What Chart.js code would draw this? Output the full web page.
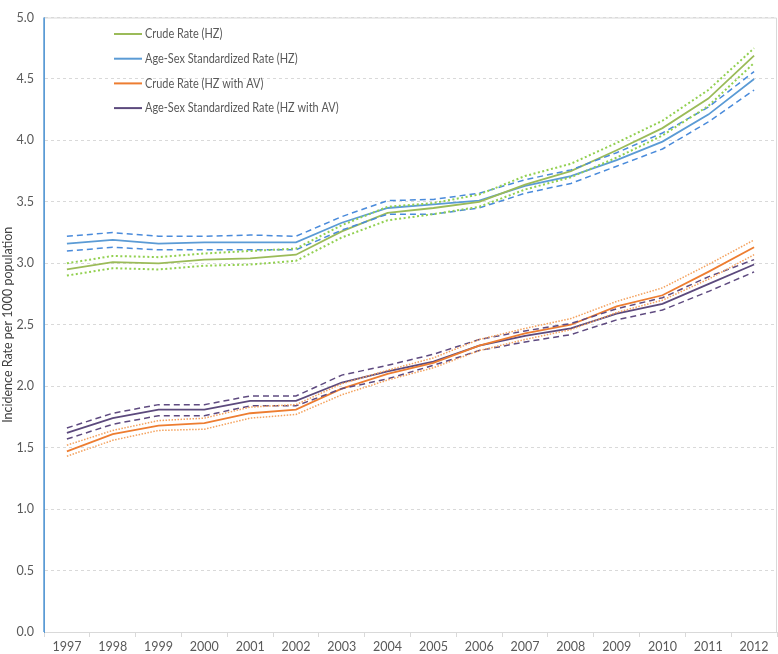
<!DOCTYPE html>
<html>
<head>
<meta charset="utf-8">
<script src="https://cdn.jsdelivr.net/npm/chart.js@4"></script>
<style>
  body { margin: 0; background: #fff; }
  #wrap { width: 778px; height: 654px; }
</style>
</head>
<body>
<div id="wrap"><canvas id="rateChart" width="778" height="654"></canvas></div>
<script>
const years = ["1997", "1998", "1999", "2000", "2001", "2002", "2003", "2004",
  "2005", "2006", "2007", "2008", "2009", "2010", "2011", "2012"];

// HZ
const crudeHz = [2.95, 3.01, 3.00, 3.03, 3.04, 3.07, 3.26, 3.41, 3.45, 3.50, 3.64, 3.75, 3.92, 4.10, 4.34, 4.69];
const crudeHzLow = [2.90, 2.96, 2.95, 2.98, 2.99, 3.02, 3.21, 3.35, 3.40, 3.46, 3.60, 3.70, 3.86, 4.04, 4.28, 4.63];
const crudeHzHigh = [3.00, 3.06, 3.05, 3.08, 3.10, 3.12, 3.31, 3.46, 3.49, 3.56, 3.71, 3.81, 3.98, 4.16, 4.41, 4.75];
const stdHz = [3.16, 3.19, 3.16, 3.17, 3.17, 3.17, 3.33, 3.45, 3.48, 3.51, 3.63, 3.71, 3.84, 3.99, 4.21, 4.50];
const stdHzLow = [3.10, 3.13, 3.11, 3.11, 3.11, 3.11, 3.27, 3.40, 3.40, 3.45, 3.57, 3.65, 3.79, 3.93, 4.15, 4.41];
const stdHzHigh = [3.22, 3.25, 3.22, 3.22, 3.23, 3.22, 3.38, 3.51, 3.52, 3.57, 3.68, 3.76, 3.90, 4.06, 4.27, 4.56];

// HZ with AV
const crudeAv = [1.47, 1.61, 1.68, 1.70, 1.78, 1.81, 1.98, 2.10, 2.19, 2.33, 2.43, 2.50, 2.65, 2.74, 2.93, 3.13];
const crudeAvLow = [1.43, 1.56, 1.64, 1.65, 1.74, 1.77, 1.93, 2.05, 2.15, 2.29, 2.38, 2.46, 2.60, 2.70, 2.87, 3.07];
const crudeAvHigh = [1.52, 1.64, 1.72, 1.74, 1.83, 1.85, 2.02, 2.13, 2.23, 2.38, 2.47, 2.55, 2.69, 2.80, 2.99, 3.19];
const stdAv = [1.62, 1.74, 1.81, 1.81, 1.88, 1.88, 2.03, 2.12, 2.20, 2.33, 2.41, 2.47, 2.59, 2.67, 2.83, 2.99];
const stdAvLow = [1.57, 1.69, 1.76, 1.76, 1.84, 1.84, 1.98, 2.06, 2.17, 2.29, 2.36, 2.42, 2.54, 2.62, 2.77, 2.93];
const stdAvHigh = [1.66, 1.78, 1.85, 1.85, 1.92, 1.92, 2.09, 2.17, 2.26, 2.38, 2.45, 2.51, 2.63, 2.72, 2.89, 3.03];

const yTicks = [0, 0.5, 1, 1.5, 2, 2.5, 3, 3.5, 4, 4.5, 5];

const FONT = "Lato, 'Open Sans', sans-serif";
const TXT = "#595959";

function line(label, data, color, width, dash, inLegend) {
  return {
    label: label,
    data: data,
    borderColor: color,
    backgroundColor: color,
    borderWidth: width,
    borderDash: dash,
    pointRadius: 0,
    pointHoverRadius: 0,
    fill: false,
    tension: 0,
    inLegend: inLegend,
  };
}

// legend drawn inside the plot, like the original
const innerLegend = {
  id: "innerLegend",
  afterDraw(chart) {
    const c = chart.ctx;
    const items = chart.data.datasets.filter((d) => d.inLegend);
    c.save();
    c.font = "13px " + FONT;
    c.textBaseline = "middle";
    items.forEach((d, i) => {
      const y = 34 + i * 24.7;
      c.strokeStyle = d.borderColor;
      c.lineWidth = 2;
      c.setLineDash([]);
      c.beginPath();
      c.moveTo(114, y);
      c.lineTo(142, y);
      c.stroke();
      c.fillStyle = TXT;
      // squeeze a little, the original font is narrower
      const w = c.measureText(d.label).width * 0.84;
      c.fillText(d.label, 145, y, w);
    });
    c.restore();
  },
};

// light frame around plot + blue left axis line
const frame = {
  id: "frame",
  beforeDatasetsDraw(chart) {
    const a = chart.chartArea;
    const c = chart.ctx;
    c.save();
    c.setLineDash([]);
    c.strokeStyle = "#D9D9D9";
    c.lineWidth = 1;
    c.beginPath();
    c.moveTo(a.left, a.top + 0.5);
    c.lineTo(a.right - 0.5, a.top + 0.5);
    c.lineTo(a.right - 0.5, a.bottom);
    c.stroke();
    c.strokeStyle = "#5B9BD5";
    c.lineWidth = 1.5;
    c.beginPath();
    c.moveTo(a.left, a.top);
    c.lineTo(a.left, a.bottom);
    c.stroke();
    c.restore();
  },
};

const ctx = document.getElementById("rateChart").getContext("2d");

new Chart(ctx, {
  type: "line",
  data: {
    labels: years,
    datasets: [
      line("Crude Rate (HZ) lower", crudeHzLow, "#92D050", 2, [2, 2.5], false),
      line("Crude Rate (HZ) upper", crudeHzHigh, "#92D050", 2, [2, 2.5], false),
      line("Age-Sex Standardized Rate (HZ) lower", stdHzLow, "#4A8BDB", 1.5, [6, 4], false),
      line("Age-Sex Standardized Rate (HZ) upper", stdHzHigh, "#4A8BDB", 1.5, [6, 4], false),
      line("Crude Rate (HZ with AV) lower", crudeAvLow, "#F4A25E", 1.5, [1.5, 1.5], false),
      line("Crude Rate (HZ with AV) upper", crudeAvHigh, "#F4A25E", 1.5, [1.5, 1.5], false),
      line("Age-Sex Standardized Rate (HZ with AV) lower", stdAvLow, "#5F4B80", 1.5, [6, 4], false),
      line("Age-Sex Standardized Rate (HZ with AV) upper", stdAvHigh, "#5F4B80", 1.5, [6, 4], false),
      line("Crude Rate (HZ)", crudeHz, "#9BBB59", 1.8, [], true),
      line("Age-Sex Standardized Rate (HZ)", stdHz, "#5B9BD5", 1.8, [], true),
      line("Crude Rate (HZ with AV)", crudeAv, "#ED7D31", 1.8, [], true),
      line("Age-Sex Standardized Rate (HZ with AV)", stdAv, "#5C4A7D", 1.8, [], true),
    ],
  },
  options: {
    responsive: false,
    animation: false,
    devicePixelRatio: 1,
    layout: { padding: { top: 5, right: 1, left: 0, bottom: 0 } },
    plugins: {
      legend: { display: false },
      tooltip: { enabled: false },
    },
    scales: {
      x: {
        offset: true,
        grid: {
          drawOnChartArea: false,
          offset: true,
          color: "#D9D9D9",
          tickLength: 5,
        },
        border: { color: "#D9D9D9" },
        ticks: {
          color: TXT,
          font: { family: FONT, size: 12.5 },
          maxRotation: 0,
          autoSkip: false,
          padding: 2,
        },
        afterFit(scale) {
          scale.height = 22;
        },
      },
      y: {
        min: 0,
        max: 5,
        afterBuildTicks(scale) {
          scale.ticks = yTicks.map((v) => ({ value: v }));
        },
        grid: {
          color: "#D9D9D9",
          drawTicks: false,
        },
        // dash here applies to the grid lines; the axis line itself is drawn by "frame"
        border: { display: true, color: "#5B9BD5", dash: [3, 3] },
        ticks: {
          color: TXT,
          font: { family: FONT, size: 12.5 },
          padding: 10,
          callback: (v) => Number(v).toFixed(1),
        },
        title: {
          display: true,
          text: "Incidence Rate per 1000 population",
          color: "#404040",
          font: { family: FONT, size: 12.5 },
          padding: { top: 0, bottom: 0 },
        },
        afterFit(scale) {
          scale.width = 44;
        },
      },
    },
  },
  plugins: [frame, innerLegend],
});
</script>
</body>
</html>
